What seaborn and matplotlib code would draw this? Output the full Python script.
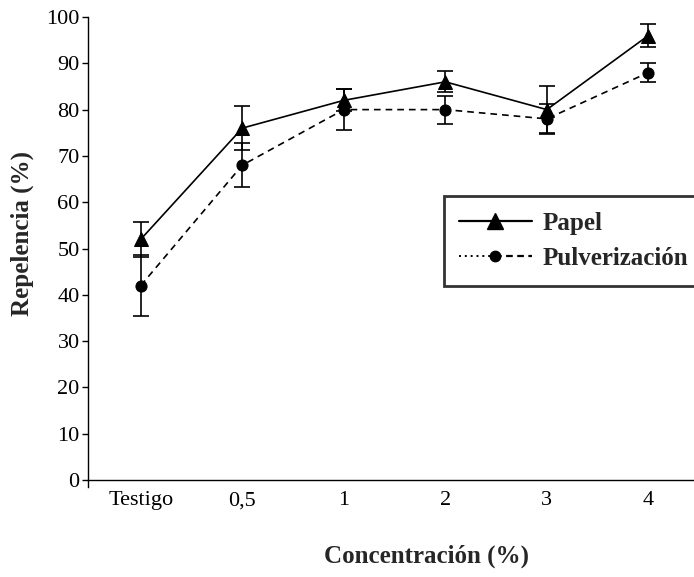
import numpy as np
import pandas as pd
import matplotlib
matplotlib.use("Agg")
import matplotlib.pyplot as plt
from matplotlib.lines import Line2D
from matplotlib.legend_handler import HandlerLine2D
import seaborn as sns

categories = ["Testigo", "0,5", "1", "2", "3", "4"]
papel = [52, 76, 82, 86, 80, 96]
papel_err = [3.8, 4.8, 2.4, 2.3, 5, 2.4]
pulv = [42, 68, 80, 80, 78, 88]
pulv_err = [6.6, 4.7, 4.5, 3, 3.3, 2.1]
y_ticks = [0, 10, 20, 30, 40, 50, 60, 70, 80, 90, 100]

sns.set_theme(style="white")
plt.rcParams['font.family'] = ['Liberation Serif', 'DejaVu Serif']

pos = np.arange(len(categories))
df = pd.DataFrame({
    "x": np.concatenate([pos, pos]),
    "y": papel + pulv,
    "serie": ["Papel"] * len(pos) + ["Pulverización"] * len(pos),
})

fig = plt.figure(figsize=(6.94, 5.77), dpi=100)
ax = fig.add_axes([88/694, 1-487/577, 606/694, 470/577])

sns.lineplot(data=df[df.serie == "Papel"], x="x", y="y", ax=ax, color="black",
             lw=1.2, marker="^", markersize=10.5, markeredgecolor="black", legend=False)
sns.lineplot(data=df[df.serie == "Pulverización"], x="x", y="y", ax=ax, color="black",
             lw=1.2, linestyle=(0, (4, 3)), marker="o", markersize=8,
             markeredgecolor="black", legend=False)
ax.errorbar(pos, papel, yerr=papel_err, fmt="none", ecolor="black", elinewidth=1.2,
            capsize=5.5, capthick=1.2)
ax.errorbar(pos, pulv, yerr=pulv_err, fmt="none", ecolor="black", elinewidth=1.2,
            capsize=5.5, capthick=1.2)

ax.set_xlim(-0.52, 5.45)
ax.set_ylim(-1.5, 100)
ax.set_yticks(y_ticks)
ax.set_xticks(pos)
ax.set_xticklabels(categories)
ax.spines['top'].set_visible(False)
ax.spines['right'].set_visible(False)
ax.spines['bottom'].set_position(('data', 0))
for s in ['left', 'bottom']:
    ax.spines[s].set_color('black')
    ax.spines[s].set_linewidth(1.0)
ax.tick_params(axis='y', direction='out', length=4, width=1, pad=2, labelsize=16, colors='black', left=True)
ax.tick_params(axis='x', length=0, pad=8, labelsize=16, colors='black')
ax.set_xlabel("")
ax.set_ylabel("")

fig.text(426/694, 1-556/577, "Concentración (%)", ha="center", va="center",
         fontsize=18, fontweight="bold")
fig.text(22/694, 1-234/577, "Repelencia (%)", ha="center", va="center",
         rotation=90, fontsize=18, fontweight="bold")


class HandlerMixed(HandlerLine2D):
    def create_artists(self, legend, orig_handle, xdescent, ydescent, width, height,
                       fontsize, trans):
        y = (height - ydescent) / 2
        x0 = -xdescent
        x1 = width - xdescent
        xm = (x0 + x1) / 2
        l1 = Line2D([x0, xm], [y, y], linestyle=(0, (1, 2)), color="black", lw=1.4)
        l2 = Line2D([xm, x1], [y, y], linestyle=(0, (3, 2)), color="black", lw=1.6)
        m = Line2D([xm], [y], marker="o", markersize=7.5, color="black", linestyle="none")
        for a in (l1, l2, m):
            a.set_transform(trans)
        return [l1, l2, m]


h1 = Line2D([], [], color="black", lw=1.6, marker="^", markersize=11)
h2 = Line2D([], [], color="black", lw=1.4, marker="o", markersize=7.5)
leg = ax.legend([h1, h2], ["Papel", "Pulverización"], loc="upper left",
                bbox_to_anchor=(0.587, 0.619), frameon=True, fancybox=False,
                handlelength=2.9, handletextpad=0.45, labelspacing=0.5,
                borderpad=0.62, borderaxespad=0,
                prop={"family": "Liberation Serif", "weight": "bold", "size": 18},
                handler_map={h2: HandlerMixed()})
leg.get_frame().set_edgecolor("black")
leg.get_frame().set_linewidth(2)

fig.savefig("out.png", dpi=100)
